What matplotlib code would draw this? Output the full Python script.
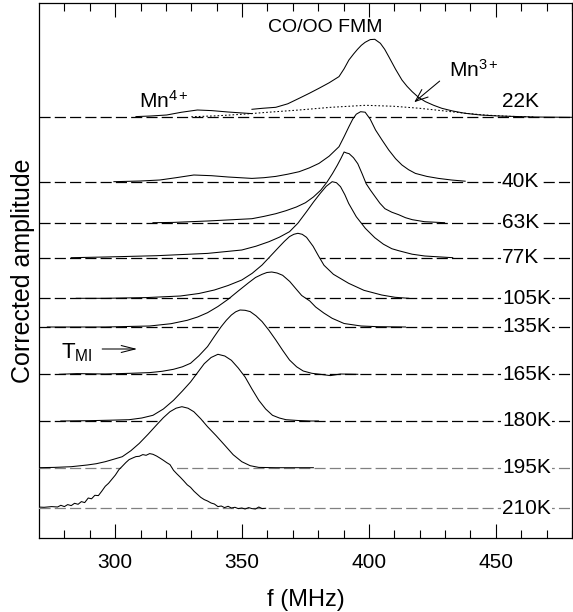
import matplotlib
matplotlib.use("Agg")
import matplotlib.pyplot as plt

plt.rcParams['font.family'] = ['Liberation Sans', 'DejaVu Sans']
plt.rcParams['mathtext.fontset'] = 'custom'
plt.rcParams['mathtext.rm'] = 'Liberation Sans'
plt.rcParams['mathtext.it'] = 'Liberation Sans'
plt.rcParams['lines.scale_dashes'] = False

# temperatures and their baseline offsets (arbitrary units, stacked)
temps = ["22K", "40K", "63K", "77K", "105K", "135K", "165K", "180K", "195K", "210K"]
offsets = [420.7, 356.3, 315.3, 280.3, 239.7, 211.0, 163.7, 117.0, 70.3, 29.7]
base_colors = ["k", "k", "k", "k", "k", "k", "k", "k", "0.5", "0.5"]

# 22K spectrum: Mn4+ part and main CO/OO FMM part
f22_mn4 = [308.2, 314, 320.3, 326, 332.4, 338, 344.5, 349, 353.9]
a22_mn4 = [0.7, 1.3, 2.3, 5.0, 7.3, 6.7, 5.3, 4.5, 3.7]
f22 = [353.9, 358, 363.3, 368, 372.5, 376.5, 380.3, 384.3, 388.2, 390.2, 392.1, 394.0,
       395.5, 397.0, 398.5, 400.5, 402.3, 404.5, 406.2, 407.8, 410.5, 413.0, 415.0,
       417.0, 419.5, 422.2, 425.5, 428.7, 433, 437.9, 444, 451.0, 465, 480]
a22 = [8.0, 9.0, 10.0, 13.5, 19.0, 24.0, 29.0, 34.5, 40.7, 48.5, 57.3, 63.5,
       68.0, 72.0, 75.0, 77.7, 78.0, 74.0, 68.0, 60.7, 48.0, 37.3, 31.0,
       25.7, 20.0, 15.7, 12.0, 9.0, 6.3, 4.0, 2.3, 1.3, 0.3, 0.0]
# Mn3+ contribution (dotted)
f22_mn3 = [330, 340, 350, 360, 372.5, 385, 398.7, 410, 420, 428.5, 437, 445.4, 455, 465]
a22_mn3 = [0.5, 1.5, 3.0, 5.0, 7.3, 10.0, 12.0, 11.0, 9.0, 6.7, 4.3, 2.3, 1.0, 0.3]

f40 = [299.5, 310, 317.6, 324, 331.0, 338, 344.5, 353.9, 358.6, 363.3, 368, 372.5,
       376.5, 380.3, 384.3, 388.2, 390.2, 392.1, 393.6, 395.0, 396.7, 398.5, 400.5,
       402.6, 405.2, 407.8, 410.5, 413.0, 415.6, 418.3, 422.8, 427.4, 432.5, 437.9]
a40 = [0.0, 0.7, 1.7, 4.0, 6.7, 6.0, 4.7, 3.3, 4.0, 5.3, 7.5, 10.0,
       13.8, 18.3, 25.5, 35.0, 45.0, 55.0, 62.5, 67.5, 70.0, 69.5, 62.5,
       51.7, 41.5, 31.7, 23.0, 16.7, 12.0, 8.3, 5.3, 3.3, 1.7, 0.5]

f63 = [314.9, 323.0, 336.4, 353.9, 358.6, 363.3, 367.3, 371.4, 375.0, 378.1, 381.0,
       383.5, 385.6, 387.5, 389.0, 390.2, 391.2, 392.2, 393.9, 395.6, 397.3, 398.9,
       400.6, 402.3, 404.3, 406.3, 409.0, 411.7, 414.4, 417.1, 421.9, 429.8]
a63 = [0.0, 0.3, 1.7, 4.0, 6.3, 9.0, 12.0, 15.7, 20.0, 25.7, 32.5,
       40.7, 49.0, 57.3, 64.5, 70.7, 69.7, 69.0, 65.0, 59.0, 49.0, 39.0,
       32.5, 26.5, 19.5, 14.0, 10.5, 8.0, 5.0, 3.0, 1.0, 0.0]

f77 = [282.7, 296.1, 316.3, 336.4, 349.9, 355.5, 360.6, 364.7, 368.7, 372.0, 375.4,
       378.1, 380.8, 383.2, 385.5, 387.2, 388.8, 390.5, 392.0, 395.0, 398.6, 402.3,
       405.7, 409.0, 411.7, 417.0, 422.0, 433.0]
a77 = [0.0, 0.7, 2.0, 4.3, 7.7, 11.5, 16.0, 20.5, 26.0, 34.5, 46.0,
       55.5, 64.3, 71.5, 76.0, 75.0, 71.0, 63.0, 54.3, 41.0, 29.3, 20.0,
       13.5, 9.0, 7.0, 3.5, 1.7, 0.0]

f105 = [284.7, 296.1, 312.2, 325.7, 333, 339.1, 344.5, 349.9, 354.0, 357.9, 361.3,
        364.7, 366.7, 368.7, 370.4, 372.0, 373.7, 375.4, 378.0, 380.2, 382.3, 386.0,
        392.0, 398.0, 405.0, 410.3, 415.7]
a105 = [0.0, 0.0, 0.7, 2.3, 4.8, 8.3, 12.8, 18.3, 25.0, 33.3, 42.5,
        51.7, 57.0, 61.7, 64.0, 65.0, 64.0, 61.0, 52.0, 42.0, 33.0, 24.0,
        15.0, 8.0, 3.3, 1.0, 0.0]

f135 = [273.3, 296.1, 313.6, 322, 328.4, 332.5, 336.4, 340.5, 344.5, 348.5, 352.6,
        355.3, 357.9, 359.8, 361.7, 363.8, 366.0, 368.8, 371.4, 373.5, 376.7, 379.0,
        382.2, 385.5, 390.2, 396.9, 403.6, 414.4]
a135 = [0.0, 0.0, 1.0, 3.3, 6.7, 10.0, 14.3, 20.5, 27.7, 36.0, 44.3,
        49.5, 52.7, 54.5, 55.0, 54.0, 51.7, 45.5, 37.7, 31.5, 26.0, 20.0,
        14.0, 8.7, 3.5, 1.0, 0.3, 0.0]

f165 = [278.0, 285, 296.1, 306, 313.6, 318.5, 323.0, 326.5, 329.7, 333.0, 336.4,
        339.0, 341.8, 343.8, 345.8, 347.5, 349.2, 351.2, 353.2, 355.5, 357.9, 360.6,
        363.3, 366.0, 368.7, 371.5, 374.1, 377.5, 380.8, 384.8, 388.8, 395.6]
a165 = [0.0, 0.7, 0.3, 1.0, 1.7, 3.0, 5.0, 7.5, 11.0, 18.5, 27.7,
        37.5, 47.7, 54.0, 59.3, 62.5, 64.3, 64.0, 62.7, 58.5, 52.7, 44.0,
        34.3, 24.0, 14.3, 7.5, 3.3, 1.0, 0.0, -1.3, 0.3, 0.0]

f180 = [278.6, 289.4, 298, 305.5, 310.5, 314.9, 319.0, 323.0, 326.5, 329.7, 332.5,
        335.1, 337.8, 340.5, 343.2, 345.8, 348.5, 351.2, 353.9, 356.6, 359.3, 362.0,
        364.7, 367.3, 372, 376.7, 380.1]
a180 = [0.0, 0.3, 0.8, 1.3, 3.0, 5.7, 12.0, 20.7, 30.0, 39.0, 48.5,
        57.3, 63.5, 66.7, 65.0, 60.7, 53.0, 44.0, 32.0, 20.7, 12.0, 5.7,
        3.0, 1.3, 0.5, 0.0, 0.0]

f195 = [269.2, 276, 282.7, 289, 292.6, 296.1, 299.5, 302.8, 306.2, 309.5, 313.0,
        316.3, 319.0, 321.6, 324.0, 326.3, 328.7, 331.0, 333.7, 336.4, 339.8, 343.1,
        346.5, 349.9, 353.2, 356.6, 363.3, 378.1]
a195 = [0.0, 0.3, 1.0, 2.7, 4.0, 6.0, 8.5, 11.0, 17.0, 24.3, 33.5,
        42.7, 50.0, 56.0, 59.5, 61.0, 59.5, 56.0, 49.0, 41.0, 32.0, 22.7,
        13.0, 6.0, 2.0, 0.3, 0.0, 0.0]

f210 = [269.2, 272.0, 275.0, 277.3, 278.6, 280.0, 281.3, 282.7, 284.0, 285.4, 286.7,
        288.0, 289.4, 290.7, 292.0, 293.4, 294.7, 296.1, 297.4, 298.8, 300.1, 301.5,
        302.8, 304.2, 305.5, 306.9, 308.2, 309.5, 310.9, 312.2, 313.6, 314.9, 316.3,
        317.6, 319.0, 320.3, 321.6, 323.0, 324.3, 325.7, 327.0, 328.4, 329.7, 331.1,
        332.4, 333.7, 335.1, 336.4, 337.8, 339.1, 340.5, 341.8, 343.1, 344.5, 345.8,
        347.2, 348.5, 349.9, 351.2, 352.6, 353.9, 355.3, 356.6, 357.9, 359.3]
a210 = [1.3, 1.0, 1.7, 1.3, 3.0, 1.7, 3.7, 2.7, 5.0, 4.0, 6.7,
        5.7, 10.3, 9.5, 13.0, 12.7, 17.0, 22.0, 25.0, 29.3, 33.3, 38.7,
        42.0, 45.7, 48.7, 50.3, 51.7, 52.0, 53.7, 53.0, 54.7, 54.0, 52.3,
        50.3, 48.0, 45.7, 43.7, 38.0, 34.5, 31.0, 27.5, 23.5, 21.0, 17.0,
        14.0, 11.0, 8.7, 7.3, 5.3, 4.3, 1.7, 2.3, 0.7, 2.0, 0.3,
        1.0, -0.3, 0.3, -0.7, 0.7, -0.3, -0.7, 1.3, -0.3, 0.0]

spectra = [[(f22_mn4, a22_mn4), (f22, a22)], [(f40, a40)], [(f63, a63)], [(f77, a77)],
           [(f105, a105)], [(f135, a135)], [(f165, a165)], [(f180, a180)],
           [(f195, a195)], [(f210, a210)]]

fig = plt.figure(figsize=(5.73, 6.12), dpi=100)
ax = fig.add_axes([39 / 573, 1 - 538 / 612, 533 / 573, 535 / 612])

for i in range(len(temps)):
    off = offsets[i]
    z = 2 + 2 * i
    # each spectrum hides what lies behind it (white fill down to its baseline)
    for f, a in spectra[i]:
        y = [off + v for v in a]
        ax.fill_between(f, off, y, color='white', lw=0, zorder=z)
        ax.plot(f, y, color='k', lw=0.75, zorder=z + 1)
    if i == 0:
        ax.plot(f22_mn3, [off + v for v in a22_mn3], color='k', lw=0.75,
                ls=(0, (1.2, 1.5)), zorder=z + 1)
    ax.axhline(off, color=base_colors[i], lw=0.9, ls=(0, (8, 3)), zorder=z + 0.5)
    if i == 0:
        ax.text(452.4, off + 15.6, temps[i], fontsize=15, ha='left', va='center', zorder=60)
    else:
        ax.text(452.4, off, temps[i], fontsize=15, ha='left', va='center', zorder=60,
                bbox=dict(boxstyle='square,pad=0.05', fc='white', ec='none'))

ax.text(382.9, 511, "CO/OO FMM", fontsize=14, ha='center', va='center', zorder=60)
ax.text(309.3, 430, "Mn$^{4+}$", fontsize=15, ha='left', va='baseline', zorder=60)
ax.text(431.4, 461.3, "Mn$^{3+}$", fontsize=15, ha='left', va='baseline', zorder=60)
ax.annotate("", xy=(417, 434), xytext=(428.7, 458.7), zorder=60,
            arrowprops=dict(arrowstyle='->,head_length=0.9,head_width=0.35', lw=0.75, color='k'))
ax.text(278.6, 179.7, "T$_{\\mathrm{MI}}$", fontsize=16, ha='left', va='baseline', zorder=60)
ax.annotate("", xy=(309.8, 189), xytext=(293.8, 189), zorder=60,
            arrowprops=dict(arrowstyle='->,head_length=1.0,head_width=0.25', lw=0.75, color='k'))

ax.set_xlim(270, 480)
ax.set_ylim(0, 535)
ax.set_xticks([300, 350, 400, 450])
ax.set_xticks(range(280, 481, 10), minor=True)
ax.set_yticks([])
ax.tick_params(axis='x', which='both', direction='in', top=True, bottom=True,
               labelsize=15, pad=11, width=0.8)
ax.tick_params(axis='x', which='major', length=10)
ax.tick_params(axis='x', which='minor', length=6)
for s in ax.spines.values():
    s.set_linewidth(0.9)

ax.set_xlabel("f (MHz)", fontsize=17, labelpad=12)
ax.set_ylabel("Corrected amplitude", fontsize=18, labelpad=3)

fig.savefig("out.png", dpi=100)
